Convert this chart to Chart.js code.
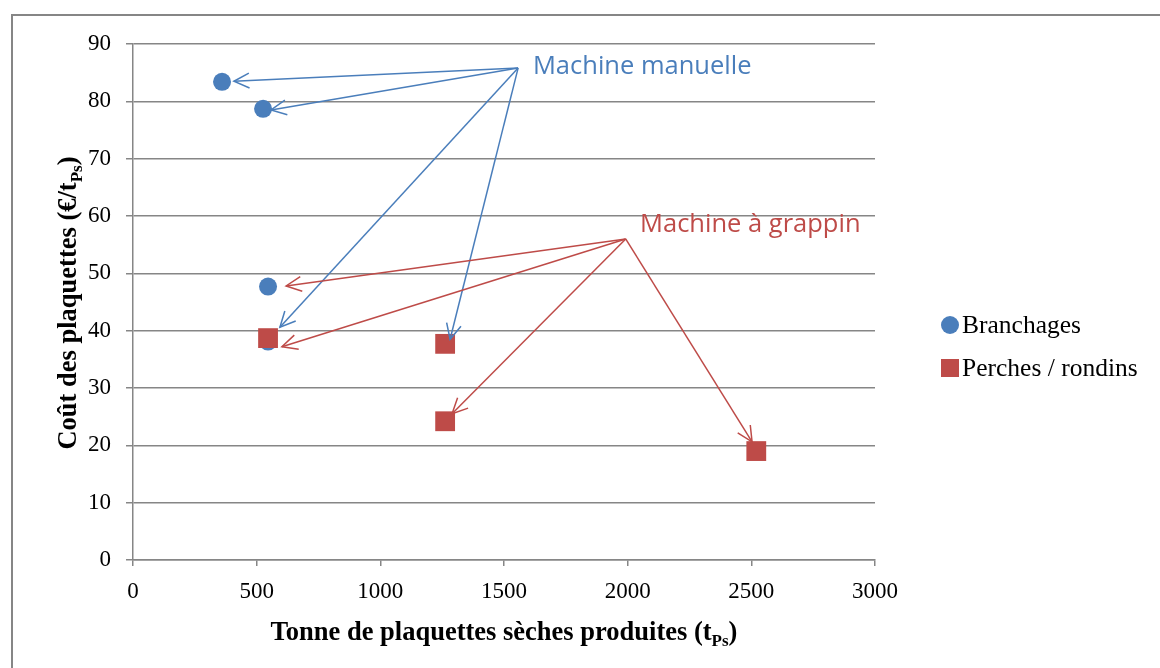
<!DOCTYPE html>
<html><head><meta charset="utf-8">
<script src="https://cdn.jsdelivr.net/npm/chart.js@4.4.1/dist/chart.umd.min.js"></script>
<style>html,body{margin:0;padding:0;background:#fff}#wrap{width:1160px;height:668px;position:relative}</style>
</head><body><div id="wrap"><canvas id="c" width="1160" height="668"></canvas></div>
<script>
// ---- data ----
const branchagesX = [360, 526, 546, 546];
const branchagesY = [83.4, 78.7, 47.7, 38.1];
const perchesX = [546, 1262, 1262, 2520];
const perchesY = [38.7, 37.7, 24.2, 19.0];
const seriesNames = ['Branchages', 'Perches / rondins'];
const xTickValues = [0, 500, 1000, 1500, 2000, 2500, 3000];
const yTickValues = [0, 10, 20, 30, 40, 50, 60, 70, 80, 90];
const xTitleParts = ['Tonne de plaquettes sèches produites (t', 'Ps', ')'];
const yTitleParts = ['Coût des plaquettes (€/t', 'Ps', ')'];
// annotations (data coordinates)
const manuelleLabel = 'Machine manuelle';
const manuelleLabelAt = [1617, 86.0];
const manuelleOrigin = [1557, 85.8];
const manuelleTipsX = [408, 558, 594, 1282];
const manuelleTipsY = [83.5, 78.5, 40.6, 38.5];
const grappinLabel = 'Machine à grappin';
const grappinLabelAt = [2050, 58.5];
const grappinOrigin = [1992, 56.0];
const grappinTipsX = [619, 602, 1290, 2503];
const grappinTipsY = [47.8, 37.2, 25.5, 20.6];

const BLUE = '#4a7ebb', RED = '#be4b48', GRID = '#868686';
const SERIF = '"Liberation Serif", "Times New Roman", serif';
const SANS = '"Open Sans", Lato, sans-serif';

function zip(xs, ys){ return xs.map((x,i)=>({x:x, y:ys[i]})); }

function drawSubText(ctx, parts, size, cx, cy){
  const main = 'bold ' + size + 'px ' + SERIF;
  const sub = 'bold ' + Math.round(size*0.65) + 'px ' + SERIF;
  let w = 0;
  const widths = parts.map((p,i)=>{ ctx.font = (i===1)?sub:main; const m = ctx.measureText(p).width; w += m; return m; });
  let x = cx - w/2;
  ctx.textBaseline = 'alphabetic';
  ctx.textAlign = 'left';
  parts.forEach((p,i)=>{
    ctx.font = (i===1)?sub:main;
    ctx.fillText(p, x, cy + size*0.33 + (i===1 ? size*0.22 : 0));
    x += widths[i];
  });
}

function arrow(ctx, x0, y0, x1, y1, color){
  ctx.save();
  ctx.strokeStyle = color; ctx.lineWidth = 1.5;
  ctx.beginPath(); ctx.moveTo(x0,y0); ctx.lineTo(x1,y1); ctx.stroke();
  const a = Math.atan2(y1-y0, x1-x0), L = 17, sp = 0.45;
  ctx.beginPath();
  ctx.moveTo(x1 - L*Math.cos(a-sp), y1 - L*Math.sin(a-sp));
  ctx.lineTo(x1, y1);
  ctx.lineTo(x1 - L*Math.cos(a+sp), y1 - L*Math.sin(a+sp));
  ctx.stroke();
  ctx.restore();
}

const extras = {
  id: 'extras',
  beforeDraw(chart){
    const ctx = chart.ctx;
    ctx.save();
    ctx.fillStyle = '#fff'; ctx.fillRect(0,0,chart.width,chart.height);
    ctx.strokeStyle = GRID; ctx.lineWidth = 2;
    ctx.beginPath(); ctx.moveTo(12, 700); ctx.lineTo(12, 15); ctx.lineTo(1200, 15); ctx.stroke();
    ctx.restore();
  },
  afterDatasetsDraw(chart){
    const ctx = chart.ctx, xs = chart.scales.x, ys = chart.scales.y;
    const P = (x,y)=>[xs.getPixelForValue(x), ys.getPixelForValue(y)];
    const o1 = P(manuelleOrigin[0], manuelleOrigin[1]);
    manuelleTipsX.forEach((tx,i)=>{ const t = P(tx, manuelleTipsY[i]); arrow(ctx, o1[0], o1[1], t[0], t[1], BLUE); });
    const o2 = P(grappinOrigin[0], grappinOrigin[1]);
    grappinTipsX.forEach((tx,i)=>{ const t = P(tx, grappinTipsY[i]); arrow(ctx, o2[0], o2[1], t[0], t[1], RED); });
    ctx.save();
    ctx.font = '25.5px ' + SANS; ctx.textBaseline = 'middle'; ctx.textAlign = 'left';
    let p = P(manuelleLabelAt[0], manuelleLabelAt[1]);
    ctx.fillStyle = BLUE; ctx.fillText(manuelleLabel, p[0], p[1]);
    p = P(grappinLabelAt[0], grappinLabelAt[1]);
    ctx.fillStyle = RED; ctx.fillText(grappinLabel, p[0], p[1]);
    ctx.restore();
  },
  afterDraw(chart){
    const ctx = chart.ctx, ca = chart.chartArea;
    ctx.save();
    ctx.fillStyle = '#000';
    drawSubText(ctx, xTitleParts, 26.5, 504, 631);
    ctx.translate(67, 303);
    ctx.rotate(-Math.PI/2);
    drawSubText(ctx, yTitleParts, 26.5, 0, 0);
    ctx.restore();
    // legend
    ctx.save();
    const lx = 950, ly = [325, 368];
    ctx.fillStyle = BLUE; ctx.beginPath(); ctx.arc(lx, ly[0], 9, 0, Math.PI*2); ctx.fill();
    ctx.fillStyle = RED; ctx.fillRect(lx-9, ly[1]-9, 18, 18);
    ctx.fillStyle = '#000'; ctx.font = '25.5px ' + SERIF; ctx.textBaseline = 'middle'; ctx.textAlign = 'left';
    ctx.fillText(seriesNames[0], 962, ly[0]+1);
    ctx.fillText(seriesNames[1], 962, ly[1]+1);
    ctx.restore();
  }
};

new Chart(document.getElementById('c'), {
  type: 'scatter',
  data: { datasets: [
    { label: seriesNames[0], order: 2, data: zip(branchagesX, branchagesY), pointStyle: 'circle', pointRadius: 9, pointHoverRadius: 9,
      backgroundColor: BLUE, borderColor: BLUE, borderWidth: 0 },
    { label: seriesNames[1], order: 1, data: zip(perchesX, perchesY), pointStyle: 'rect', pointRadius: 14, pointHoverRadius: 14,
      backgroundColor: RED, borderColor: RED, borderWidth: 0 }
  ]},
  options: {
    responsive: false, animation: false, devicePixelRatio: 1,
    layout: { padding: { left: 12, right: 285, top: 44, bottom: 0 } },
    plugins: { legend: { display: false }, tooltip: { enabled: false } },
    scales: {
      x: { type: 'linear', min: 0, max: 3000,
        afterBuildTicks(s){ s.ticks = xTickValues.map(v=>({value:v})); },
        afterFit(s){ s.height = 108; },
        ticks: { font: { family: SERIF, size: 23 }, color: '#000', padding: 12, maxRotation: 0, callback: v => String(v) },
        grid: { drawOnChartArea: false, drawTicks: true, tickLength: 6, color: GRID, lineWidth: 1.5 },
        border: { color: GRID, width: 1.5 } },
      y: { min: 0, max: 90,
        afterBuildTicks(s){ s.ticks = yTickValues.map(v=>({value:v})); },
        afterFit(s){ s.width = 121; },
        ticks: { font: { family: SERIF, size: 23 }, color: '#000', padding: 15, callback: v => String(v) },
        grid: { drawOnChartArea: true, drawTicks: true, tickLength: 7, color: GRID, lineWidth: 1.5 },
        border: { color: GRID, width: 1.5 } }
    }
  },
  plugins: [extras]
});
</script></body></html>
